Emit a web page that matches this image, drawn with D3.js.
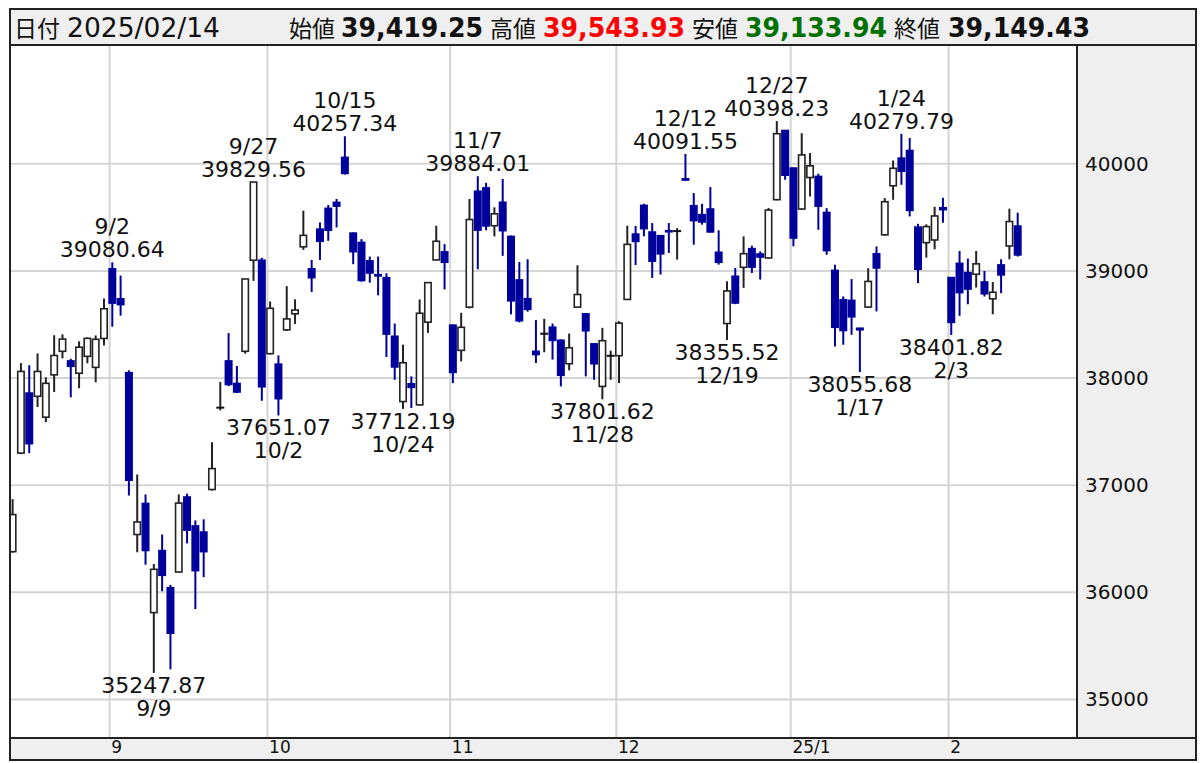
<!DOCTYPE html>
<html><head><meta charset="utf-8">
<script src="https://cdn.jsdelivr.net/npm/d3@7"></script>
<style>body{margin:0;background:#fff} svg{display:block} text{font-family:"DejaVu Sans","Noto Sans CJK JP",sans-serif}</style>
</head><body><svg id="c" width="1200" height="763"></svg>
<script>
const dates=["8/15","8/16","8/19","8/20","8/21","8/22","8/23","8/26","8/27","8/28","8/29","8/30",
"9/2","9/3","9/4","9/5","9/6","9/9","9/10","9/11","9/12","9/13","9/17","9/18","9/19","9/20","9/24","9/25","9/26","9/27","9/30",
"10/1","10/2","10/3","10/4","10/7","10/8","10/9","10/10","10/11","10/15","10/16","10/17","10/18","10/21","10/22","10/23","10/24","10/25","10/28","10/29","10/30","10/31",
"11/1","11/5","11/6","11/7","11/8","11/11","11/12","11/13","11/14","11/15","11/18","11/19","11/20","11/21","11/22","11/25","11/26","11/27","11/28","11/29",
"12/2","12/3","12/4","12/5","12/6","12/9","12/10","12/11","12/12","12/13","12/16","12/17","12/18","12/19","12/20","12/23","12/24","12/25","12/26","12/27","12/30",
"1/6","1/7","1/8","1/9","1/10","1/14","1/15","1/16","1/17","1/20","1/21","1/22","1/23","1/24","1/27","1/28","1/29","1/30","1/31",
"2/3","2/4","2/5","2/6","2/7","2/10","2/12","2/13","2/14"];
const opens=[36380,37300,37860,37830,37635,38030,38250,38160,38045,38203,38100,38370,
39020,38740,38050,36540,36830,35811,36390,36043,36190,36890,36620,36563,36960,37724,38160,37950,38250,39100,39100,
38228,38130,38450,38600,39225,39020,39390,39584,39640,40060,39353,39266,39094,38965,38937,38390,37781,37947,37750,38522,39103,39178,
38494,38259,38662,39744,39775,39422,39641,39322,38916,38741,38250,38414,38475,38353,38134,38662,38600,38319,37922,38208,
38209,38734,39344,39612,39363,39329,39375,39372,39860,39609,39525,39578,39174,38509,38950,39034,39208,39158,39121,39665,40311,
39960,39578,39872,39882,39546,39005,38731,38725,38465,38663,39160,39337,39795,40053,40124,39409,39264,39289,39590,
38938,39071,38984,38969,38897,38740,39056,39233,39419.25];
const highs=[36870,38140,38120,38230,38007,38400,38408,38180,38343,38380,38398,38743,
39080.64,38957,38073,37100,36914,36265,36540,36070,36914,36921,36672,36682,37401,37964,38420,38113,38925,39829.56,39123,
38715,38212,38858,38735,39562,39103,39453,39616,39672,40257.34,39360,39297,39134,39134,38978,38509,38312,38016,38734,38891,39422,39250,
38500,38609,39672,39884.01,39822,39594,39859,39330,39084,39109,38541,38553,38509,38360,38416,39053,38605,38325,38469,38256,
38531,39422,39420,39627,39447,39335,39447,39400,40091.55,39727,39627,39783,39379,38904,39028,39323,39236,39183,39587,40398.23,40315,
39965,40286,40100,39907,39586,39058,38762,38924,38470,39026,39229,39680,40031,40279.79,40240,39440,39435,39599,39683,
38940,39186,39115,39186,39000,38897,39109,39581,39543.93];
const lows=[36370,37290,37300,37730,37589,37870,38184,37820,37905,38138,37961,38305,
38480,38583,36904,36374,36258,35247.87,36010,35281,36185,36457,35844,36142,36950,37699,37925,37860,38228,38907,37788,
38220,37651.07,38440,38505,39197,38803,39103,39281,39406,39900,39063,38900,38891,38772,38197,37984,37712.19,37720,37745,38422,39100,38828,
37953,38156,38650,39016,39380,39322,39141,38594,38520,38620,38141,38241,38172,37922,38072,38655,38016,37984,37801.62,37984,
37953,38730,39055,39323,38935,38966,39168,39106,39840,39245,39432,39360,39059,38355.52,38690,38842,38981,38919,39115,39660,39851,
39230,39570,39695,39384,39151,38295,38311,38404,38055.68,38655,38622,39330,39664,39804,39509,38886,39124,39202,39450,
38401.82,38581,38689,38845,38761,38596,38792,39109,39133.94];
const closes=[36726,38062,37388,38062,37951,38211,38364,38110,38288,38371,38362,38647,
38700,38686,37047,36657,36391,36215,36159,35619,36833,36581,36203,36380,37155,37724,37940,37870,38925,39829.56,37919,
38651,37808,38552,38635,39332,38937,39277,39380,39605,39910,39180,38911,38981,38954,38411,38104,38143,37913,38605,38891,39277,39081,
38053,38474,39480,39381,39420,39533,39376,38721,38535,38642,38220,38414,38352,38026,38283,38780,38442,38134,38349,38208,
38513,39248,39276,39395,39091,39160,39367,39372,39849,39470,39457,39364,39081,38813,38701,39161,39036,39130,39568,40281,39894,
39307,40083,39981,39605,39190,38474,38444,38572,38451,38902,39028,39646,39958,39931,39565,39016,39414,39513,39572,
38520,38798,38831,39066,38787,38801,38963,39461,39149.43];
const yTicks=[35000,36000,37000,38000,39000,40000];
const monthLabels=["9","10","11","12","25/1","2"];
const highLabelDates=["9/2","9/27","10/15","11/7","12/12","12/27","1/24"];
const lowLabelDates=["9/9","10/2","10/24","11/28","12/19","1/17","2/3"];
const headerDate="2025/02/14";
const headerItems=[["始値","39,419.25","#111"],["高値","39,543.93","#ff0000"],["安値","39,133.94","#007000"],["終値","39,149.43","#111"]];

const svg=d3.select("#c");
const L=10,R=1077,T=45,B=738,RA=1196,BB=760,HT=9;
const x=d3.scaleLinear().domain([12,121]).range([112.3,1017.7]);
const y=d3.scaleLinear().domain([35000,40000]).range([699.5,163.8]);
const BLUE="#00009c", DARK="#222";

// backgrounds
svg.append("rect").attr("x",L).attr("y",HT).attr("width",RA-L).attr("height",T-HT).attr("fill","#efefef");
svg.append("rect").attr("x",R).attr("y",T).attr("width",RA-R).attr("height",B-T).attr("fill","#efefef");
svg.append("rect").attr("x",L).attr("y",B).attr("width",RA-L).attr("height",BB-B).attr("fill","#efefef");

svg.append("clipPath").attr("id","pc").append("rect").attr("x",L).attr("y",T).attr("width",R-L).attr("height",B-T);
const g=svg.append("g").attr("clip-path","url(#pc)");

// month starts
const monthIdx=[];
dates.forEach((d,i)=>{ if(i>0 && d.split("/")[0]!==dates[i-1].split("/")[0]) monthIdx.push(i); });

// grid
g.selectAll(".hg").data(yTicks).join("line").attr("x1",L).attr("x2",R)
 .attr("y1",d=>y(d)).attr("y2",d=>y(d)).attr("stroke","#d4d4d4").attr("stroke-width",2);
g.selectAll(".vg").data(monthIdx).join("line").attr("y1",T).attr("y2",B)
 .attr("x1",d=>x(d)-2.7).attr("x2",d=>x(d)-2.7).attr("stroke","#d4d4d4").attr("stroke-width",2);

// candles
const idx=d3.range(dates.length);
const col=i=> closes[i]>opens[i]?"up":(closes[i]<opens[i]?"down":"doji");
g.selectAll(".wick").data(idx).join("line")
 .attr("x1",i=>x(i)).attr("x2",i=>x(i)).attr("y1",i=>y(highs[i])).attr("y2",i=>y(lows[i]))
 .attr("stroke",i=>col(i)==="down"?BLUE:DARK).attr("stroke-width",2);
g.selectAll(".body").data(idx.filter(i=>col(i)!=="doji")).join("rect")
 .attr("x",i=>x(i)-3.2).attr("width",6.4)
 .attr("y",i=>y(Math.max(opens[i],closes[i])))
 .attr("height",i=>Math.max(1,Math.abs(y(opens[i])-y(closes[i]))))
 .attr("fill",i=>col(i)==="up"?"#fff":BLUE)
 .attr("stroke",i=>col(i)==="up"?DARK:BLUE).attr("stroke-width",1.6);
g.selectAll(".doji").data(idx.filter(i=>col(i)==="doji")).join("line")
 .attr("x1",i=>x(i)-4).attr("x2",i=>x(i)+4).attr("y1",i=>y(opens[i])).attr("y2",i=>y(opens[i]))
 .attr("stroke","#111").attr("stroke-width",2);

// annotations
const ann=svg.append("g").attr("font-size",22).attr("fill","#111").attr("text-anchor","middle");
highLabelDates.forEach(d=>{const i=dates.indexOf(d);const yy=y(highs[i]);
 ann.append("text").attr("x",x(i)).attr("y",yy-5).text(highs[i].toFixed(2));
 ann.append("text").attr("x",x(i)).attr("y",yy-28).text(d);});
lowLabelDates.forEach(d=>{const i=dates.indexOf(d);const yy=y(lows[i]);
 ann.append("text").attr("x",x(i)).attr("y",yy+20).text(lows[i].toFixed(2));
 ann.append("text").attr("x",x(i)).attr("y",yy+43).text(d);});

// right axis
const ya=svg.append("g").attr("transform",`translate(${R},0)`)
 .call(d3.axisRight(y).tickValues(yTicks).tickSize(0).tickPadding(8).tickFormat(d3.format("d")));
ya.select(".domain").remove();
ya.selectAll("text").attr("font-size",20).attr("fill","#111").attr("font-family","DejaVu Sans");

// bottom axis
const xa=svg.append("g").attr("transform",`translate(0,${B})`)
 .call(d3.axisBottom(x).tickValues(monthIdx).tickSize(0).tickPadding(3).tickFormat((d,k)=>monthLabels[k]));
xa.select(".domain").remove();
xa.selectAll("text").attr("font-size",17).attr("fill","#111").attr("font-family","DejaVu Sans")
 .attr("text-anchor","start").attr("dx",-1.5);

// frame
const fr=svg.append("g").attr("stroke",DARK).attr("stroke-width",2).attr("fill","none");
fr.append("rect").attr("x",L).attr("y",HT).attr("width",RA-L).attr("height",BB-HT);
fr.append("line").attr("x1",L).attr("x2",RA).attr("y1",T).attr("y2",T);
fr.append("line").attr("x1",L).attr("x2",RA).attr("y1",B).attr("y2",B);
fr.append("line").attr("x1",R).attr("x2",R).attr("y1",T).attr("y2",B);

// header
const hd=svg.append("g").attr("fill","#111");
hd.append("text").attr("x",14).attr("y",37).attr("font-size",23).text("日付");
hd.append("text").attr("x",67).attr("y",37).attr("font-size",26).attr("textLength",153).attr("lengthAdjust","spacingAndGlyphs").text(headerDate);
const hx=[[289,341],[490,543],[692,745],[894,948]];
headerItems.forEach((h,k)=>{
 hd.append("text").attr("x",hx[k][0]).attr("y",37).attr("font-size",23).text(h[0]);
 hd.append("text").attr("x",hx[k][1]).attr("y",37).attr("font-size",26).attr("font-weight","bold").attr("fill",h[2])
  .attr("textLength",142).attr("lengthAdjust","spacingAndGlyphs").text(h[1]);
});
</script></body></html>
